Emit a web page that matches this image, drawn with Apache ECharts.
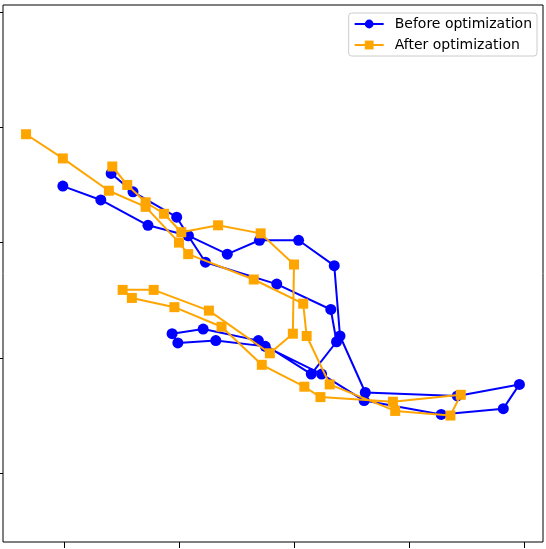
<!DOCTYPE html>
<html>
<head>
<meta charset="utf-8">
<script src="https://cdn.jsdelivr.net/npm/echarts@6/dist/echarts.min.js"></script>
<style>
  html, body { margin: 0; padding: 0; background: #ffffff; }
  #chart { width: 546px; height: 549px; }
</style>
</head>
<body>
<div id="chart"></div>
<script>
// Series names
const seriesNames = ['Before optimization', 'After optimization'];

// Before optimization trajectory (x, y), in axis units
const beforeX = [-0.01, 0.32, 0.73, 1.08, 1.23, 1.85, 2.32, 2.37, 2.15, 1.69, 1.21, 0.94, 0.99, 1.32, 1.75, 2.24, 2.61, 3.28, 3.82, 3.96, 3.42, 2.62, 2.40, 2.35, 2.04, 1.70, 1.42, 1.08, 0.98, 0.60, 0.41];
const beforeY = [2.49, 2.37, 2.15, 2.06, 1.83, 1.64, 1.42, 1.14, 0.86, 1.15, 1.25, 1.21, 1.13, 1.15, 1.10, 0.86, 0.63, 0.51, 0.56, 0.77, 0.67, 0.70, 1.19, 1.80, 2.02, 2.02, 1.90, 2.06, 2.22, 2.44, 2.60];

// After optimization trajectory (x, y), in axis units
const afterX = [-0.33, -0.01, 0.39, 0.71, 1.00, 1.08, 1.65, 2.08, 2.11, 2.31, 2.88, 3.36, 3.45, 2.86, 2.23, 2.09, 1.72, 1.37, 0.96, 0.59, 0.51, 0.78, 1.26, 1.79, 1.99, 2.00, 1.71, 1.34, 1.02, 0.87, 0.71, 0.55, 0.42];
const afterY = [2.94, 2.73, 2.45, 2.31, 2.00, 1.90, 1.68, 1.47, 1.19, 0.77, 0.54, 0.50, 0.68, 0.62, 0.66, 0.75, 0.94, 1.27, 1.44, 1.52, 1.59, 1.59, 1.41, 1.04, 1.21, 1.81, 2.08, 2.15, 2.09, 2.25, 2.35, 2.50, 2.66];

// Tick positions (labels are outside the visible area)
const xTicks = [0, 1, 2, 3, 4];
const yTicks = [0, 1, 2, 3, 4];

const zip = (xs, ys) => xs.map((x, i) => [x, ys[i]]);

const chart = echarts.init(document.getElementById('chart'), null, { renderer: 'canvas' });
chart.setOption({
  animation: false,
  backgroundColor: '#ffffff',
  grid: {
    left: 3, right: 3, top: 5, bottom: 7,
    show: true, borderColor: '#000000', borderWidth: 1, backgroundColor: 'transparent'
  },
  legend: {
    data: seriesNames,
    orient: 'vertical',
    right: 9, top: 13,
    padding: [4, 5, 4, 5],
    itemGap: 7,
    itemWidth: 29, itemHeight: 11,
    backgroundColor: 'rgba(255,255,255,0.8)',
    borderColor: '#cccccc', borderWidth: 1, borderRadius: 3,
    textStyle: { fontFamily: 'DejaVu Sans', fontSize: 14, color: '#000000', padding: [0, 0, 0, 6] }
  },
  xAxis: {
    type: 'value',
    position: 'bottom',
    min: -0.5304, max: 4.1652,
    axisLine: { show: false, onZero: false },
    splitLine: { show: false },
    axisLabel: { show: false, customValues: xTicks },
    axisTick: { show: true, inside: false, length: 6, customValues: xTicks, lineStyle: { color: '#000000', width: 1 } }
  },
  yAxis: {
    type: 'value',
    position: 'left',
    min: -0.5967, max: 4.0607,
    axisLine: { show: false, onZero: false },
    splitLine: { show: false },
    axisLabel: { show: false, customValues: yTicks },
    axisTick: { show: true, inside: false, length: 6, customValues: yTicks, lineStyle: { color: '#000000', width: 1 } }
  },
  series: [
    {
      name: seriesNames[0],
      type: 'line',
      data: zip(beforeX, beforeY),
      symbol: 'circle',
      symbolSize: 11,
      showAllSymbol: true,
      color: '#0000ff',
      lineStyle: { color: '#0000ff', width: 2 },
      itemStyle: { color: '#0000ff' },
      z: 2
    },
    {
      name: seriesNames[1],
      type: 'line',
      data: zip(afterX, afterY),
      symbol: 'rect',
      symbolSize: 10,
      showAllSymbol: true,
      color: '#ffa500',
      lineStyle: { color: '#ffa500', width: 2 },
      itemStyle: { color: '#ffa500' },
      z: 3
    }
  ]
});
</script>
</body>
</html>
